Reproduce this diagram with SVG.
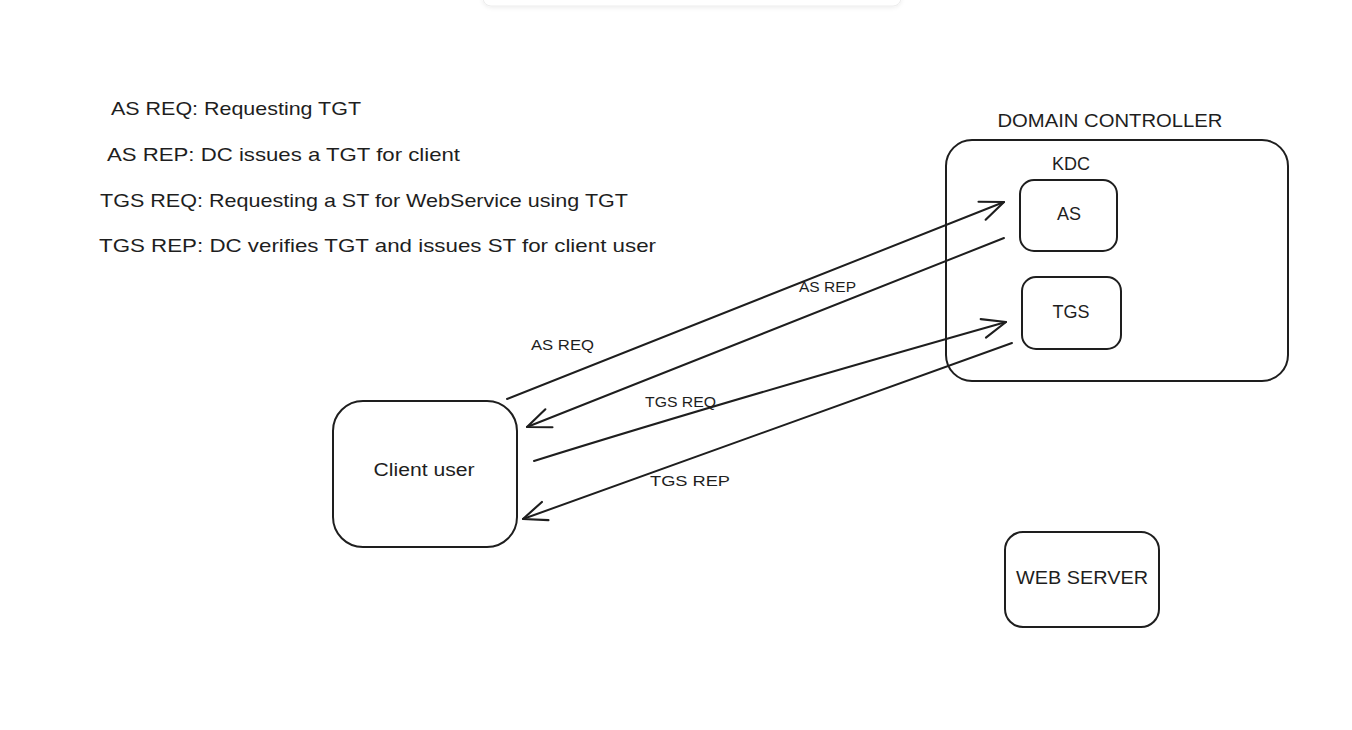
<svg xmlns="http://www.w3.org/2000/svg" width="1352" height="730" viewBox="0 0 1352 730">
<style>
.box{fill:#fff;stroke:#1e1e1e;stroke-width:2}
.t{font-family:"Liberation Sans",Arial,sans-serif;fill:#1e1e1e}
.note{font-size:19px}
.lbl{font-size:15px}
.edge{fill:none;stroke:#1e1e1e;stroke-width:2;stroke-linecap:round}
</style>
<defs>
<marker id="ah" markerUnits="userSpaceOnUse" markerWidth="30" markerHeight="30" refX="0" refY="0" viewBox="-24 -12 28 24" orient="auto" overflow="visible">
<path d="M-22,-9 L0,0 L-22,9" fill="none" stroke="#1e1e1e" stroke-width="2" stroke-linecap="round" stroke-linejoin="round"/>
</marker>
<filter id="sh" x="-10%" y="-50%" width="120%" height="200%"><feDropShadow dx="0" dy="1" stdDeviation="2" flood-color="#000" flood-opacity="0.08"/></filter>
</defs>
<rect width="1352" height="730" fill="#fff"/>
<rect x="483" y="-40" width="418" height="46" rx="8" fill="#fff" stroke="#ececec" filter="url(#sh)"/>

<g id="notes">
<text class="t note" x="111" y="115" textLength="250" lengthAdjust="spacingAndGlyphs">AS REQ: Requesting TGT</text>
<text class="t note" x="107" y="161" textLength="353" lengthAdjust="spacingAndGlyphs">AS REP: DC issues a TGT for client</text>
<text class="t note" x="100" y="207" textLength="528" lengthAdjust="spacingAndGlyphs">TGS REQ: Requesting a ST for WebService using TGT</text>
<text class="t note" x="99" y="252" textLength="557" lengthAdjust="spacingAndGlyphs">TGS REP: DC verifies TGT and issues ST for client user</text>
</g>

<g id="domain-controller">
<rect class="box" x="946" y="140" width="342" height="241" rx="26"/>
<text class="t" x="1110" y="127" font-size="19" text-anchor="middle" textLength="225" lengthAdjust="spacingAndGlyphs">DOMAIN CONTROLLER</text>
<text class="t" x="1071" y="170" font-size="18" text-anchor="middle">KDC</text>
</g>

<g id="as">
<rect class="box" x="1020" y="180" width="97" height="71" rx="14"/>
<text class="t" x="1069" y="220" font-size="18" text-anchor="middle">AS</text>
</g>

<g id="tgs">
<rect class="box" x="1022" y="277" width="99" height="72" rx="14"/>
<text class="t" x="1071" y="318" font-size="18" text-anchor="middle">TGS</text>
</g>

<g id="client-user">
<rect class="box" x="333" y="401" width="184" height="146" rx="30"/>
<text class="t" x="424" y="476" font-size="18" text-anchor="middle" textLength="101" lengthAdjust="spacingAndGlyphs">Client user</text>
</g>

<g id="web-server">
<rect class="box" x="1005" y="532" width="154" height="95" rx="18"/>
<text class="t" x="1082" y="584" font-size="18" text-anchor="middle" textLength="132" lengthAdjust="spacingAndGlyphs">WEB SERVER</text>
</g>

<g id="connectors">
<path class="edge" d="M507,399 L1004,202" marker-end="url(#ah)"/>
<path class="edge" d="M1004,238 L527,427" marker-end="url(#ah)"/>
<path class="edge" d="M534,461 Q720,403 1006,322" marker-end="url(#ah)"/>
<path class="edge" d="M1012,343 L523,519" marker-end="url(#ah)"/>
<text class="t lbl" x="531" y="350" textLength="63" lengthAdjust="spacingAndGlyphs">AS REQ</text>
<text class="t" x="799" y="292" font-size="14" textLength="57" lengthAdjust="spacingAndGlyphs">AS REP</text>
<text class="t" x="645" y="407" font-size="14" textLength="71" lengthAdjust="spacingAndGlyphs">TGS REQ</text>
<text class="t lbl" x="650" y="486" textLength="80" lengthAdjust="spacingAndGlyphs">TGS REP</text>
</g>
</svg>
